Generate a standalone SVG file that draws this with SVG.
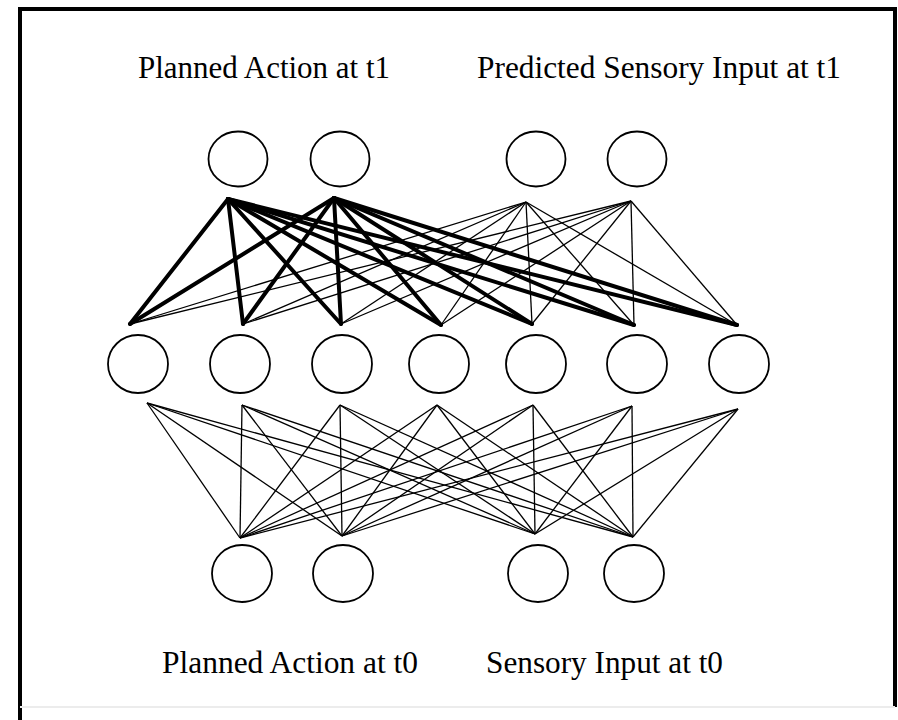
<svg xmlns="http://www.w3.org/2000/svg" width="898" height="720" viewBox="0 0 898 720">
<style>
.node{fill:#fff;stroke:#000;stroke-width:1.8}
.thick{stroke:#000;stroke-width:4;stroke-linecap:round}
.thin{stroke:#000;stroke-width:1.3}
.lbl{font-family:"Liberation Serif","Times New Roman",serif;font-size:32px;fill:#000}
</style>
<rect x="0" y="0" width="898" height="720" fill="#fff"/>
<g id="frame">
<path d="M20,720 V9 H895 V707" fill="none" stroke="#000" stroke-width="4"/>
<line x1="20" y1="707" x2="895" y2="707" stroke="#ececec" stroke-width="2"/>
</g>
<g id="connectors">
<g class="thin">
<line x1="526" y1="202" x2="130" y2="324"/>
<line x1="526" y1="202" x2="243" y2="324"/>
<line x1="526" y1="202" x2="341" y2="324"/>
<line x1="526" y1="202" x2="441" y2="325"/>
<line x1="526" y1="202" x2="532" y2="324"/>
<line x1="526" y1="202" x2="634" y2="325"/>
<line x1="526" y1="202" x2="737" y2="325"/>
<line x1="631" y1="201" x2="130" y2="324"/>
<line x1="631" y1="201" x2="243" y2="324"/>
<line x1="631" y1="201" x2="341" y2="324"/>
<line x1="631" y1="201" x2="441" y2="325"/>
<line x1="631" y1="201" x2="532" y2="324"/>
<line x1="631" y1="201" x2="634" y2="325"/>
<line x1="631" y1="201" x2="737" y2="325"/>
</g>
<g class="thick">
<line x1="228" y1="199" x2="130" y2="324"/>
<line x1="228" y1="199" x2="243" y2="324"/>
<line x1="228" y1="199" x2="341" y2="324"/>
<line x1="228" y1="199" x2="441" y2="325"/>
<line x1="228" y1="199" x2="532" y2="324"/>
<line x1="228" y1="199" x2="634" y2="325"/>
<line x1="228" y1="199" x2="737" y2="325"/>
<line x1="334" y1="198" x2="130" y2="324"/>
<line x1="334" y1="198" x2="243" y2="324"/>
<line x1="334" y1="198" x2="341" y2="324"/>
<line x1="334" y1="198" x2="441" y2="325"/>
<line x1="334" y1="198" x2="532" y2="324"/>
<line x1="334" y1="198" x2="634" y2="325"/>
<line x1="334" y1="198" x2="737" y2="325"/>
</g>
<g class="thin">
<line x1="147" y1="403" x2="240" y2="538"/>
<line x1="242" y1="405" x2="240" y2="538"/>
<line x1="340" y1="405" x2="240" y2="538"/>
<line x1="437" y1="405" x2="240" y2="538"/>
<line x1="533" y1="405" x2="240" y2="538"/>
<line x1="632" y1="406" x2="240" y2="538"/>
<line x1="738" y1="409" x2="240" y2="538"/>
<line x1="147" y1="403" x2="342" y2="536"/>
<line x1="242" y1="405" x2="342" y2="536"/>
<line x1="340" y1="405" x2="342" y2="536"/>
<line x1="437" y1="405" x2="342" y2="536"/>
<line x1="533" y1="405" x2="342" y2="536"/>
<line x1="632" y1="406" x2="342" y2="536"/>
<line x1="738" y1="409" x2="342" y2="536"/>
<line x1="147" y1="403" x2="535" y2="534"/>
<line x1="242" y1="405" x2="535" y2="534"/>
<line x1="340" y1="405" x2="535" y2="534"/>
<line x1="437" y1="405" x2="535" y2="534"/>
<line x1="533" y1="405" x2="535" y2="534"/>
<line x1="632" y1="406" x2="535" y2="534"/>
<line x1="738" y1="409" x2="535" y2="534"/>
<line x1="147" y1="403" x2="633" y2="537"/>
<line x1="242" y1="405" x2="633" y2="537"/>
<line x1="340" y1="405" x2="633" y2="537"/>
<line x1="437" y1="405" x2="633" y2="537"/>
<line x1="533" y1="405" x2="633" y2="537"/>
<line x1="632" y1="406" x2="633" y2="537"/>
<line x1="738" y1="409" x2="633" y2="537"/>
</g>
</g>
<g id="out-action-1"><ellipse class="node" cx="238" cy="159" rx="29.5" ry="27.5"/></g>
<g id="out-action-2"><ellipse class="node" cx="340" cy="159" rx="29.5" ry="27.5"/></g>
<g id="out-sensory-1"><ellipse class="node" cx="536" cy="159" rx="29.5" ry="27.5"/></g>
<g id="out-sensory-2"><ellipse class="node" cx="637" cy="159" rx="29.5" ry="27.5"/></g>
<g id="hidden-1"><ellipse class="node" cx="138" cy="364" rx="30" ry="29"/></g>
<g id="hidden-2"><ellipse class="node" cx="240" cy="364" rx="30" ry="29"/></g>
<g id="hidden-3"><ellipse class="node" cx="342" cy="364" rx="30" ry="29"/></g>
<g id="hidden-4"><ellipse class="node" cx="439" cy="364" rx="30" ry="29"/></g>
<g id="hidden-5"><ellipse class="node" cx="536" cy="364" rx="30" ry="29"/></g>
<g id="hidden-6"><ellipse class="node" cx="637" cy="364" rx="30" ry="29"/></g>
<g id="hidden-7"><ellipse class="node" cx="739" cy="364" rx="30" ry="29"/></g>
<g id="in-action-1"><ellipse class="node" cx="242" cy="573.5" rx="30" ry="28.5"/></g>
<g id="in-action-2"><ellipse class="node" cx="343" cy="573.5" rx="30" ry="28.5"/></g>
<g id="in-sensory-1"><ellipse class="node" cx="538" cy="573.5" rx="30" ry="28.5"/></g>
<g id="in-sensory-2"><ellipse class="node" cx="634" cy="573.5" rx="30" ry="28.5"/></g>
<g id="labels">
<text class="lbl" x="138" y="78" textLength="252" lengthAdjust="spacingAndGlyphs">Planned Action at t1</text>
<text class="lbl" x="477" y="78" textLength="364" lengthAdjust="spacingAndGlyphs">Predicted Sensory Input at t1</text>
<text class="lbl" x="162" y="673" textLength="256" lengthAdjust="spacingAndGlyphs">Planned Action at t0</text>
<text class="lbl" x="486" y="673" textLength="237" lengthAdjust="spacingAndGlyphs">Sensory Input at t0</text>
</g>
</svg>
